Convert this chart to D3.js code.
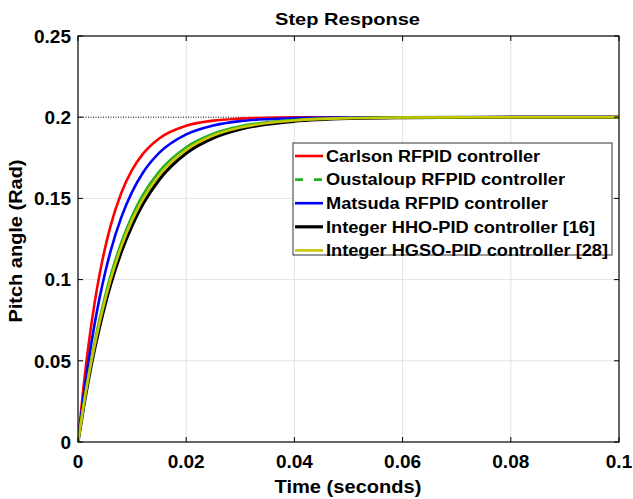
<!DOCTYPE html>
<html><head><meta charset="utf-8">
<script src="https://cdn.jsdelivr.net/npm/d3@7"></script>
<style>body{margin:0;background:#fff}svg{display:block;font-family:"Liberation Sans",Arial,sans-serif}</style>
</head><body><svg id="c" width="633" height="499"></svg>
<script>
const times = [0,0.001,0.002,0.003,0.004,0.005,0.006,0.008,0.010,0.012,0.015,0.020,0.025,0.030,0.035,0.040,0.050,0.060,0.080,0.100];
const carlson   = [0,0.0332,0.0610,0.0841,0.1034,0.1194,0.1328,0.1533,0.1675,0.1774,0.1869,0.1947,0.1979,0.1991,0.1997,0.1999,0.2000,0.2000,0.2000,0.2000];
const oustaloup = [0,0.0224,0.0424,0.0601,0.0758,0.0897,0.1021,0.1228,0.1392,0.1521,0.1665,0.1815,0.1898,0.1944,0.1969,0.1983,0.1995,0.1998,0.2000,0.2000];
const matsuda   = [0,0.0274,0.0510,0.0713,0.0889,0.1041,0.1172,0.1383,0.1540,0.1658,0.1780,0.1894,0.1949,0.1976,0.1988,0.1994,0.1999,0.2000,0.2000,0.2000];
const hho       = [0,0.0208,0.0395,0.0562,0.0711,0.0845,0.0966,0.1170,0.1333,0.1465,0.1615,0.1778,0.1872,0.1926,0.1957,0.1975,0.1992,0.1997,0.2000,0.2000];
const hgso      = [0,0.0217,0.0411,0.0583,0.0737,0.0874,0.0997,0.1203,0.1366,0.1496,0.1643,0.1799,0.1887,0.1936,0.1964,0.1980,0.1994,0.1998,0.2000,0.2000];
const seriesNames = ["Carlson RFPID controller","Oustaloup RFPID controller","Matsuda RFPID controller","Integer HHO-PID controller [16]","Integer HGSO-PID controller [28]"];
const xTicks = [0,0.02,0.04,0.06,0.08,0.1];
const yTicks = [0,0.05,0.1,0.15,0.2,0.25];
const reference = 0.2;

const series = [
  {name:seriesNames[0], vals:carlson,   color:"#ff0000", w:2.6, lw:214},
  {name:seriesNames[1], vals:oustaloup, color:"#22b022", w:2.6, lw:239},
  {name:seriesNames[2], vals:matsuda,   color:"#0000ff", w:2.6, lw:222},
  {name:seriesNames[3], vals:hho,       color:"#000000", w:3.2, lw:269},
  {name:seriesNames[4], vals:hgso,      color:"#c8c800", w:2.6, lw:282}
];

const svg = d3.select("#c");
const L=78, R=619, T=36, B=442;
const x = d3.scaleLinear().domain([0,0.1]).range([L,R]);
const y = d3.scaleLinear().domain([0,0.25]).range([B,T]);

// grid
const g = svg.append("g");
g.selectAll(".gx").data(xTicks.slice(1,-1)).join("line")
  .attr("x1",d=>x(d)).attr("x2",d=>x(d)).attr("y1",T).attr("y2",B)
  .attr("stroke","#e3e3e3").attr("stroke-width",1);
g.selectAll(".gy").data(yTicks.slice(1,-1).filter(d=>d!==reference)).join("line")
  .attr("y1",d=>y(d)).attr("y2",d=>y(d)).attr("x1",L).attr("x2",R)
  .attr("stroke","#e3e3e3").attr("stroke-width",1);

// reference dotted line
svg.append("line").attr("x1",L).attr("x2",R).attr("y1",y(reference)).attr("y2",y(reference))
  .attr("stroke","#000").attr("stroke-width",1).attr("stroke-dasharray","1,1.5");

// curves
const line = d3.line().x((d,i)=>x(times[i])).y(d=>y(d)).curve(d3.curveMonotoneX);
svg.append("defs").append("clipPath").attr("id","clip").append("rect")
  .attr("x",L).attr("y",T).attr("width",R-L).attr("height",B-T);
const cg = svg.append("g").attr("clip-path","url(#clip)");
[0,2,3,1,4].forEach(i=>{
  const s=series[i];
  cg.append("path").attr("d",line(s.vals)).attr("fill","none")
    .attr("stroke",s.color).attr("stroke-width",s.w).attr("stroke-linejoin","round");
});

// axes with inward ticks
const tl=5;
const ax = svg.append("g").attr("stroke","#000").attr("stroke-width",1);
xTicks.forEach(t=>{
  ax.append("line").attr("x1",x(t)).attr("x2",x(t)).attr("y1",B).attr("y2",B-tl);
  ax.append("line").attr("x1",x(t)).attr("x2",x(t)).attr("y1",T).attr("y2",T+tl);
});
yTicks.forEach(t=>{
  ax.append("line").attr("y1",y(t)).attr("y2",y(t)).attr("x1",L).attr("x2",L+tl);
  ax.append("line").attr("y1",y(t)).attr("y2",y(t)).attr("x1",R).attr("x2",R-tl);
});
svg.append("rect").attr("x",L).attr("y",T).attr("width",R-L).attr("height",B-T)
  .attr("fill","none").attr("stroke","#000").attr("stroke-width",1.2);

// tick labels
const fmt = d=> d===0?"0":String(+d.toFixed(2));
svg.selectAll(".xl").data(xTicks).join("text")
  .attr("x",d=>x(d)).attr("y",468).attr("text-anchor","middle")
  .attr("font-size",19).attr("font-weight","bold").text(fmt);
svg.selectAll(".yl").data(yTicks).join("text")
  .attr("x",71).attr("y",d=>y(d)+6.8).attr("text-anchor","end")
  .attr("font-size",19).attr("font-weight","bold").text(fmt);

// titles
svg.append("text").attr("x",347.5).attr("y",25).attr("text-anchor","middle")
  .attr("font-size",17).attr("font-weight","bold")
  .attr("textLength",145).attr("lengthAdjust","spacingAndGlyphs").text("Step Response");
svg.append("text").attr("x",348).attr("y",493).attr("text-anchor","middle")
  .attr("font-size",18).attr("font-weight","bold")
  .attr("textLength",147).attr("lengthAdjust","spacingAndGlyphs").text("Time (seconds)");
svg.append("text").attr("transform","translate(22,241) rotate(-90)").attr("text-anchor","middle")
  .attr("font-size",18).attr("font-weight","bold")
  .attr("textLength",163).attr("lengthAdjust","spacingAndGlyphs").text("Pitch angle (Rad)");

// legend
const lg = svg.append("g");
lg.append("rect").attr("x",293).attr("y",143).attr("width",319).attr("height",112)
  .attr("fill","#fff").attr("stroke","#333").attr("stroke-width",1);
series.forEach((s,i)=>{
  const cy = 156 + i*23.6;
  lg.append("line").attr("x1",295).attr("x2",323).attr("y1",cy).attr("y2",cy)
    .attr("stroke",s.color).attr("stroke-width",s.w)
    .attr("stroke-dasharray", i===1 ? "8,11" : null);
  lg.append("text").attr("x",326).attr("y",cy+5.8).attr("font-size",16)
    .attr("font-weight","bold")
    .attr("textLength",s.lw).attr("lengthAdjust","spacingAndGlyphs").text(s.name);
});
</script></body></html>
